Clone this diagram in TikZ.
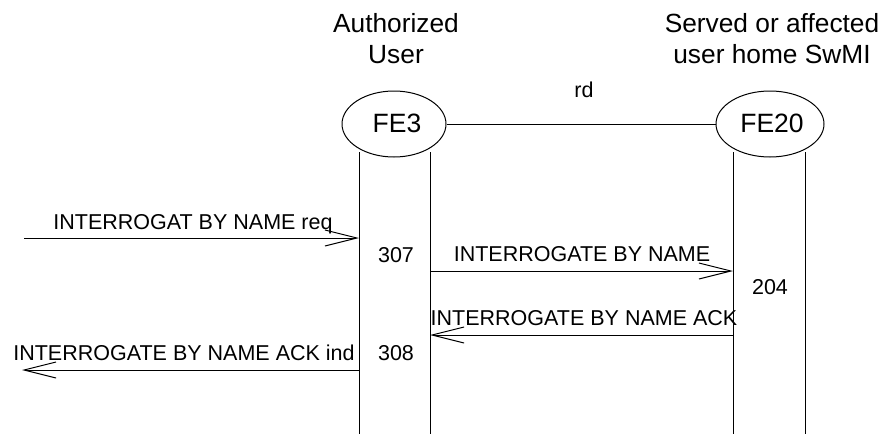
\documentclass[tikz,border=0pt]{standalone}
\usepackage{fontspec}
\setmainfont{Liberation Sans}
\usetikzlibrary{arrows.meta,shapes.geometric}
\begin{document}
\begin{tikzpicture}[x=1pt,y=-1pt,
  line width=1pt,
  fe/.style={draw,ellipse,minimum width=#1,minimum height=66pt,inner sep=0pt},
  felabel/.style={anchor=base,inner sep=0pt,font=\fontsize{26.5}{26.5}\selectfont},
  title/.style={anchor=base,inner sep=0pt,font=\fontsize{26.3}{31}\selectfont},
  msg/.style={anchor=base,inner sep=0pt,font=\fontsize{21.5}{22}\selectfont},
  lifeline/.style={draw},
  signal/.style={draw,-{Straight Barb[length=32pt,width=16pt,line width=1pt]}}]
\useasboundingbox (0,0) rectangle (885,434);

% functional entities
\node[fe=104pt] (fe3) at (394,124) {};
\node[felabel] (fe3t) at (397,132) {FE3};
\node[fe=108pt] (fe20) at (770,124) {};
\node[felabel] (fe20t) at (772,132) {FE20};

% entity headings
\node[title] (h1a) at (396,32) {Authorized};
\node[title] (h1b) at (396,63) {User};
\node[title] (h2a) at (772,32) {Served or affected};
\node[title] (h2b) at (772,63) {user home SwMI};

% relationship rd
\draw (fe3.east) -- (fe20.west);
\node[msg] (rd) at (584,97) {rd};

% lifelines
\coordinate (l1t) at (359,152); \coordinate (l1b) at (359,434);
\coordinate (l2t) at (430,152); \coordinate (l2b) at (430,434);
\coordinate (l3t) at (733,152); \coordinate (l3b) at (733,434);
\coordinate (l4t) at (805,152); \coordinate (l4b) at (805,434);
\draw[lifeline] (l1t) -- (l1b);
\draw[lifeline] (l2t) -- (l2b);
\draw[lifeline] (l3t) -- (l3b);
\draw[lifeline] (l4t) -- (l4b);

% message end points
\coordinate (m1s) at (24,238);  \coordinate (m1e) at (359,238);
\coordinate (m2s) at (430,271); \coordinate (m2e) at (733,271);
\coordinate (m3s) at (733,335); \coordinate (m3e) at (430,335);
\coordinate (m4s) at (359,370); \coordinate (m4e) at (22,370);

% messages
\draw[signal] (m1s) -- (m1e);
\node[msg] (t1) at (193,229) {INTERROGAT BY NAME req};
\draw[signal] (m2s) -- (m2e);
\node[msg] (t2) at (582,261) {INTERROGATE BY NAME};
\draw[signal] (m3s) -- (m3e);
\node[msg] (t3) at (584,325) {INTERROGATE BY NAME ACK};
\draw[signal] (m4s) -- (m4e);
\node[msg] (t4) at (184,360) {INTERROGATE BY NAME ACK ind};

% reference numbers
\node[msg] (n307) at (396,262) {307};
\node[msg] (n204) at (770,294) {204};
\node[msg] (n308) at (396,360) {308};
\end{tikzpicture}
\end{document}
